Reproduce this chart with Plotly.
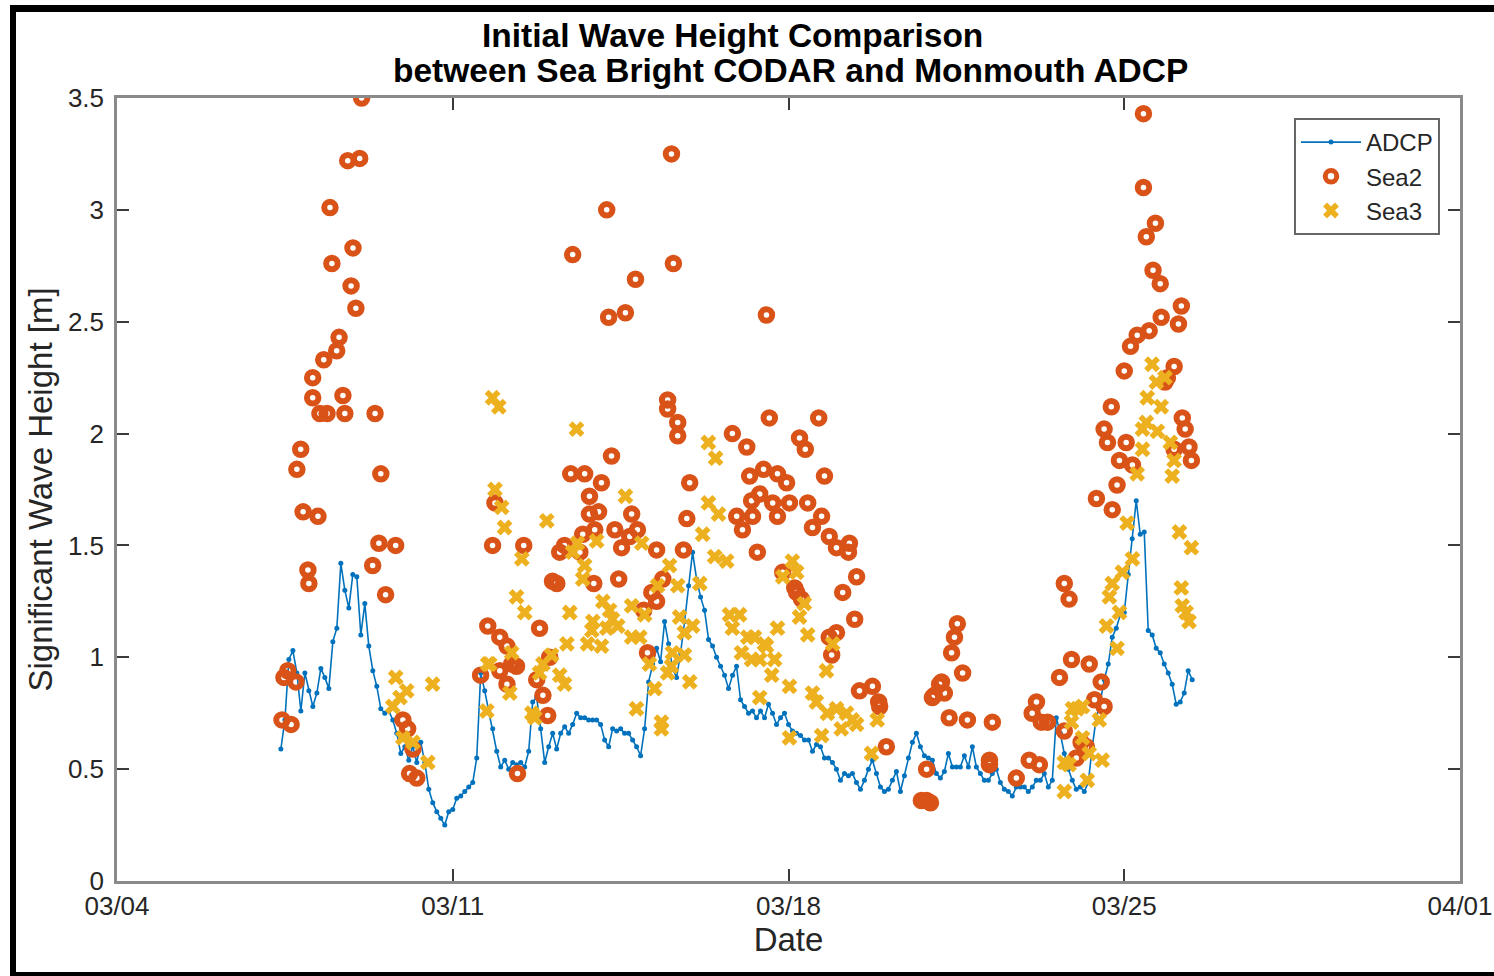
import datetime as dt
import pandas as pd
import plotly.graph_objects as go

# ---------------- data ----------------
# ADCP significant wave height, 2-hourly samples starting 2017-03-07 10:00
adcp_start = "2017-03-07 10:00"
adcp_values = [
    0.59, 0.72, 0.99, 1.03, 0.93, 0.76, 0.93, 0.85, 0.78, 0.84,
    0.95, 0.91, 0.86, 1.07, 1.13, 1.42, 1.30, 1.22, 1.37, 1.36,
    1.10, 1.24, 1.05, 0.94, 0.87, 0.77, 0.75, 0.76, 0.72, 0.66,
    0.57, 0.60, 0.54, 0.60, 0.53, 0.62, 0.53, 0.41, 0.35, 0.31,
    0.28, 0.25, 0.31, 0.32, 0.37, 0.38, 0.40, 0.42, 0.44, 0.55,
    0.93, 0.85, 0.76, 0.68, 0.58, 0.51, 0.54, 0.50, 0.53, 0.52,
    0.53, 0.51, 0.58, 0.80, 0.82, 0.68, 0.53, 0.60, 0.66, 0.59,
    0.66, 0.69, 0.66, 0.70, 0.75, 0.73, 0.73, 0.72, 0.72, 0.72,
    0.70, 0.63, 0.60, 0.68, 0.67, 0.68, 0.66, 0.66, 0.63, 0.60,
    0.56, 0.68, 0.89, 0.97, 1.04, 0.98, 1.16, 1.06, 0.95, 0.91,
    1.02, 1.16, 1.32, 1.47, 1.35, 1.27, 1.21, 1.08, 1.05, 1.00,
    0.96, 0.92, 0.86, 0.92, 0.96, 0.81, 0.78, 0.75, 0.76, 0.73,
    0.76, 0.73, 0.79, 0.75, 0.70, 0.73, 0.75, 0.70, 0.67, 0.66,
    0.65, 0.63, 0.63, 0.58, 0.61, 0.60, 0.55, 0.55, 0.53, 0.50,
    0.45, 0.48, 0.47, 0.48, 0.44, 0.41, 0.45, 0.50, 0.54, 0.48,
    0.42, 0.40, 0.41, 0.45, 0.49, 0.40, 0.47, 0.55, 0.62, 0.66,
    0.60, 0.56, 0.55, 0.54, 0.48, 0.46, 0.49, 0.57, 0.51, 0.51,
    0.51, 0.56, 0.51, 0.60, 0.51, 0.48, 0.45, 0.45, 0.48, 0.50,
    0.44, 0.41, 0.40, 0.38, 0.42, 0.42, 0.42, 0.40, 0.42, 0.45,
    0.45, 0.48, 0.42, 0.45, 0.73, 0.66, 0.57, 0.50, 0.45, 0.41,
    0.42, 0.40, 0.44, 0.60, 0.73, 0.80, 0.90, 0.97, 1.09, 1.13,
    1.19, 1.20, 1.37, 1.53, 1.70, 1.55, 1.56, 1.12, 1.10, 1.04,
    1.02, 0.97, 0.93, 0.88, 0.79, 0.80, 0.84, 0.94, 0.90,
]

# Sea2 (day of March, value)
sea2_day = [
    7.44, 7.63, 7.48, 7.56, 7.73, 7.88, 8.19, 7.98, 8.00, 7.83, 7.75, 8.08, 8.08,
    8.23, 8.38, 8.31, 8.58, 8.63, 8.44, 8.48, 8.71, 8.75, 8.81, 9.06, 9.10, 8.92,
    8.88, 8.98, 9.38, 9.50, 9.46, 9.81, 9.33, 9.60, 9.96, 10.06, 10.17, 10.10, 10.25,
    11.58, 11.73, 11.83, 11.88, 11.98, 11.98, 12.13, 12.13, 12.23, 12.33, 12.35, 12.48,
    12.75, 12.81, 12.88, 12.98, 13.02, 13.08, 13.17, 13.23, 13.33, 13.46, 13.50, 13.65,
    13.71, 13.75, 13.85, 13.85, 13.94, 13.96, 14.04, 14.10, 14.21, 14.25, 14.31, 14.38,
    14.46, 14.52, 14.60, 14.69, 14.73, 14.81, 14.85, 14.98, 15.06, 15.15, 15.25, 15.25,
    15.38, 15.48, 15.48, 15.56, 15.60, 15.69, 15.69, 15.81, 15.88, 15.94,
    16.83, 16.92, 17.04, 17.13, 17.19, 17.23, 17.25, 17.35, 17.40, 17.48, 17.54, 17.60,
    17.67, 17.77, 17.77, 17.88, 17.96, 18.02, 18.13, 18.17, 18.23, 18.27, 18.35, 18.40,
    18.50, 18.63, 18.69, 18.75, 18.85, 18.85, 18.90, 19.00, 19.00, 19.13, 19.25, 19.27,
    19.38, 19.42, 19.48, 19.75, 19.88, 19.90, 20.04, 20.77, 20.88, 20.88, 20.96, 21.00,
    21.04, 21.15, 21.19, 21.25, 21.35, 21.40, 21.46, 21.52, 21.63, 21.73, 22.19, 22.19,
    22.25, 22.75, 23.02, 23.08, 23.17, 23.23, 23.27, 23.40, 23.65, 23.75, 23.75, 23.85,
    23.90, 24.00, 24.10, 24.21, 24.27, 24.38, 24.42, 24.52, 24.58, 24.58, 24.65, 24.73,
    24.75, 24.85, 24.90, 25.00, 25.04, 25.13, 25.17, 25.27, 25.40, 25.40, 25.46, 25.52,
    25.60, 25.65, 25.75, 25.77, 25.85, 25.90, 26.04, 26.04, 26.13, 26.19, 26.21, 26.27,
    26.35, 26.40,
]
sea2_val = [
    0.72, 0.70, 0.91, 0.94, 0.89, 1.65, 1.63, 1.39, 1.33, 1.93, 1.84, 2.25, 2.16,
    2.09, 2.09, 2.33, 2.37, 2.43, 3.01, 2.76, 2.17, 2.09, 3.22, 3.23, 3.50, 2.83,
    2.66, 2.56, 2.09, 1.82, 1.51, 1.50, 1.41, 1.28, 0.72, 0.68, 0.59, 0.48, 0.46,
    0.92, 1.14, 1.50, 1.69, 1.09, 0.94, 1.05, 0.88, 0.97, 0.96, 0.48, 1.50,
    0.90, 1.13, 0.83, 0.74, 1.00, 1.34, 1.33, 1.47, 1.50, 1.82, 2.80, 1.47,
    1.55, 1.82, 1.72, 1.64, 1.33, 1.57, 1.65, 1.78, 3.00, 2.52, 1.90, 1.57,
    1.35, 1.49, 2.54, 1.54, 1.64, 2.69, 1.57, 1.21, 1.02, 1.29, 1.25, 1.48,
    1.35, 2.15, 2.11, 3.25, 2.76, 2.05, 1.99, 1.48, 1.62, 1.78,
    2.00, 1.63, 1.57, 1.94, 1.81, 1.70, 1.63, 1.47, 1.73, 1.84, 2.53, 2.07,
    1.69, 1.82, 1.63, 1.38, 1.78, 1.69, 1.31, 1.29, 1.98, 1.26, 1.93, 1.69,
    1.58, 2.07, 1.63, 1.81, 1.54, 1.09, 1.01, 1.49, 1.11, 1.29, 1.47, 1.51,
    1.17, 1.36, 0.85, 0.87, 0.80, 0.78, 0.60, 0.36, 0.50, 0.36, 0.35, 0.82,
    0.83, 0.88, 0.89, 0.84, 0.73, 1.02, 1.09, 1.15, 0.93, 0.72, 0.54, 0.52,
    0.71, 0.46, 0.54, 0.75, 0.80, 0.52, 0.71, 0.71, 0.91, 1.33, 0.67, 1.26,
    0.99, 0.55, 0.62, 0.60, 0.97, 0.81, 1.71, 0.89, 0.78, 2.02, 1.96, 2.12,
    1.66, 1.77, 1.88, 2.28, 1.96, 2.39, 1.86, 2.44, 3.43, 3.10, 2.88, 2.46,
    2.73, 2.94, 2.67, 2.52, 2.23, 2.25, 2.30, 1.93, 2.49, 2.57, 2.07, 2.02,
    1.94, 1.88,
]

# Sea3 (day of March, value)
sea3_day = [
    9.81, 9.90, 9.75, 10.04, 9.96, 10.17, 10.48, 10.58,
    11.71, 11.73, 11.77, 11.83, 11.96, 11.88, 12.02, 12.08, 12.19, 12.23, 12.33, 12.44,
    12.50, 12.65, 12.71, 12.81, 12.88, 12.96, 13.06, 13.23, 13.33, 13.38, 13.44, 13.50,
    13.58, 13.60, 13.71, 13.75, 13.81, 13.90, 13.92, 14.00, 14.10, 14.13, 14.21, 14.27,
    14.33, 14.44, 14.60, 14.73, 14.73, 14.83, 14.90, 14.94, 15.00, 15.10, 15.21, 15.27,
    15.35, 15.35, 15.48, 15.52, 15.56, 15.58, 15.69, 15.73, 15.83, 15.83, 15.94, 16.00,
    16.15, 16.21, 16.33, 16.33, 16.46, 16.48, 16.54, 16.71, 16.77, 16.83, 16.98, 17.02,
    17.15, 17.23, 17.29, 17.40, 17.40, 17.50, 17.54, 17.65, 17.71, 17.77, 17.88, 18.02,
    18.02, 18.08, 18.17, 18.23, 18.33, 18.40, 18.50, 18.58, 18.69, 18.79, 18.81, 18.92,
    19.00, 19.10, 19.21, 19.33, 19.42, 19.73, 19.85,
    23.75, 23.75, 23.85, 23.90, 23.92, 24.02, 24.13, 24.13, 24.23, 24.27, 24.48, 24.54,
    24.63, 24.69, 24.75, 24.85, 24.90, 24.96, 25.06, 25.17, 25.27, 25.38, 25.38, 25.46,
    25.48, 25.58, 25.67, 25.69, 25.77, 25.85, 25.96, 26.00, 26.04, 26.15, 26.19, 26.21,
    26.29, 26.35, 26.40,
]
sea3_val = [
    0.91, 0.82, 0.78, 0.85, 0.64, 0.62, 0.53, 0.88,
    0.76, 0.97, 0.97, 2.16, 2.12, 1.75, 1.67, 1.58, 0.84, 1.02, 1.27, 1.44,
    1.20, 0.75, 0.73, 0.93, 0.97, 1.61, 1.01, 0.92, 0.88, 1.06, 1.20, 1.47,
    2.02, 1.51, 1.35, 1.41, 1.06, 1.12, 1.16, 1.52, 1.05, 1.25, 1.13, 1.21,
    1.17, 1.14, 1.72, 1.23, 1.09, 0.77, 1.09, 1.51, 1.19, 0.97, 0.86, 1.32,
    0.71, 0.68, 0.93, 1.41, 0.96, 1.02, 1.32, 1.18, 1.11, 1.01, 0.89, 1.14,
    1.33, 1.55, 1.96, 1.69, 1.45, 1.89, 1.64, 1.43, 1.19, 1.13, 1.19, 1.02,
    1.09, 0.99, 1.09, 0.99, 0.82, 1.06, 1.05, 0.92, 0.99, 1.13, 1.36, 0.87,
    0.64, 1.43, 1.38, 1.18, 1.24, 1.10, 0.84, 0.80, 0.65, 0.94, 0.75, 1.06,
    0.77, 0.68, 0.75, 0.72, 0.70, 0.57, 0.72,
    0.53, 0.40, 0.52, 0.71, 0.77, 0.77, 0.78, 0.64, 0.45, 0.57, 0.72, 0.54,
    1.14, 1.27, 1.33, 1.04, 1.20, 1.38, 1.60, 1.44, 1.82, 2.02, 1.93, 2.05,
    2.16, 2.31, 2.23, 2.01, 2.12, 2.25, 1.96, 1.81, 1.88, 1.56, 1.31, 1.23,
    1.20, 1.16, 1.49,
]

x_tick_dates = ["2017-03-04", "2017-03-11", "2017-03-18", "2017-03-25", "2017-04-01"]
x_tick_text = ["03/04", "03/11", "03/18", "03/25", "04/01"]
y_tick_vals = [0, 0.5, 1, 1.5, 2, 2.5, 3, 3.5]
y_tick_text = ["0", "0.5", "1", "1.5", "2", "2.5", "3", "3.5"]

# ---------------- build ----------------
base = dt.datetime(2017, 3, 1)
def to_dt(days):
    return [base + dt.timedelta(days=d - 1) for d in days]

adcp_t = pd.date_range(adcp_start, periods=len(adcp_values), freq="2h")

FONT = "Liberation Sans, Arial, Helvetica, sans-serif"
TXT = "#262626"

fig = go.Figure()
fig.add_trace(go.Scatter(
    x=adcp_t, y=adcp_values, name="ADCP", mode="lines+markers",
    line=dict(color="#0072BD", width=1.6),
    marker=dict(color="#0072BD", size=5),
))
fig.add_trace(go.Scatter(
    x=to_dt(sea2_day), y=sea2_val, name="Sea2", mode="markers",
    marker=dict(symbol="circle-open", size=11.5, color="#D95319",
                line=dict(color="#D95319", width=6)),
))
fig.add_trace(go.Scatter(
    x=to_dt(sea3_day), y=sea3_val, name="Sea3", mode="markers",
    marker=dict(symbol="x", size=14, color="#EDB120", line=dict(width=0)),
))

L, R, T, B = 117, 34, 98, 95
W, H = 1494, 976
PW, PH = W - L - R, H - T - B

def px_x(px):
    return (px - L) / PW

def px_y(py):
    return (H - B - py) / PH

axis_common = dict(
    showline=True, linecolor="#8a8a8a", linewidth=2.5, mirror="ticks",
    ticks="inside", ticklen=12, tickwidth=1.5, tickcolor="#3a3a3a",
    showgrid=False, zeroline=False, automargin=False,
    tickfont=dict(family=FONT, size=26, color=TXT),
)

fig.update_layout(
    width=W, height=H,
    margin=dict(l=L, r=R, t=T, b=B, autoexpand=False),
    paper_bgcolor="white", plot_bgcolor="white",
    showlegend=True,
    legend=dict(
        x=px_x(1440), y=px_y(118), xanchor="right", yanchor="top",
        bgcolor="white", bordercolor="#666666", borderwidth=2,
        font=dict(family=FONT, size=24, color=TXT),
        tracegroupgap=0, itemwidth=60,
    ),
    xaxis=dict(
        type="date", range=["2017-03-04", "2017-04-01"],
        tickmode="array", tickvals=x_tick_dates, ticktext=x_tick_text,
        title=dict(text="Date", font=dict(family=FONT, size=33, color=TXT), standoff=0),
        **axis_common,
    ),
    yaxis=dict(
        range=[0, 3.5], tickmode="array", tickvals=y_tick_vals, ticktext=y_tick_text,
        ticklabelstandoff=5,
        title=dict(text="Significant Wave Height [m]", font=dict(family=FONT, size=33, color=TXT), standoff=6),
        **axis_common,
    ),
    annotations=[
        dict(text="<b>Initial Wave Height Comparison</b>", xref="paper", yref="paper",
             x=px_x(732), y=px_y(36), xanchor="center", yanchor="middle", showarrow=False,
             font=dict(family=FONT, size=33.5, color="black")),
        dict(text="<b>between Sea Bright CODAR and Monmouth ADCP</b>", xref="paper", yref="paper",
             x=px_x(790), y=px_y(70), xanchor="center", yanchor="middle", showarrow=False,
             font=dict(family=FONT, size=33.5, color="black")),
    ],
    shapes=[
        # black outer frame (top, left, bottom)
        dict(type="rect", xref="paper", yref="paper", x0=px_x(10), x1=px_x(1494),
             y0=px_y(12), y1=px_y(5), fillcolor="black", line=dict(width=0), layer="above"),
        dict(type="rect", xref="paper", yref="paper", x0=px_x(10), x1=px_x(16),
             y0=px_y(976), y1=px_y(5), fillcolor="black", line=dict(width=0), layer="above"),
        dict(type="rect", xref="paper", yref="paper", x0=px_x(10), x1=px_x(1494),
             y0=px_y(976), y1=px_y(972), fillcolor="black", line=dict(width=0), layer="above"),
    ],
)

fig.write_html(
    "out.html",
    config={"displayModeBar": False},
    post_script="document.body.style.margin='0px';document.body.style.overflow='hidden';",
)
